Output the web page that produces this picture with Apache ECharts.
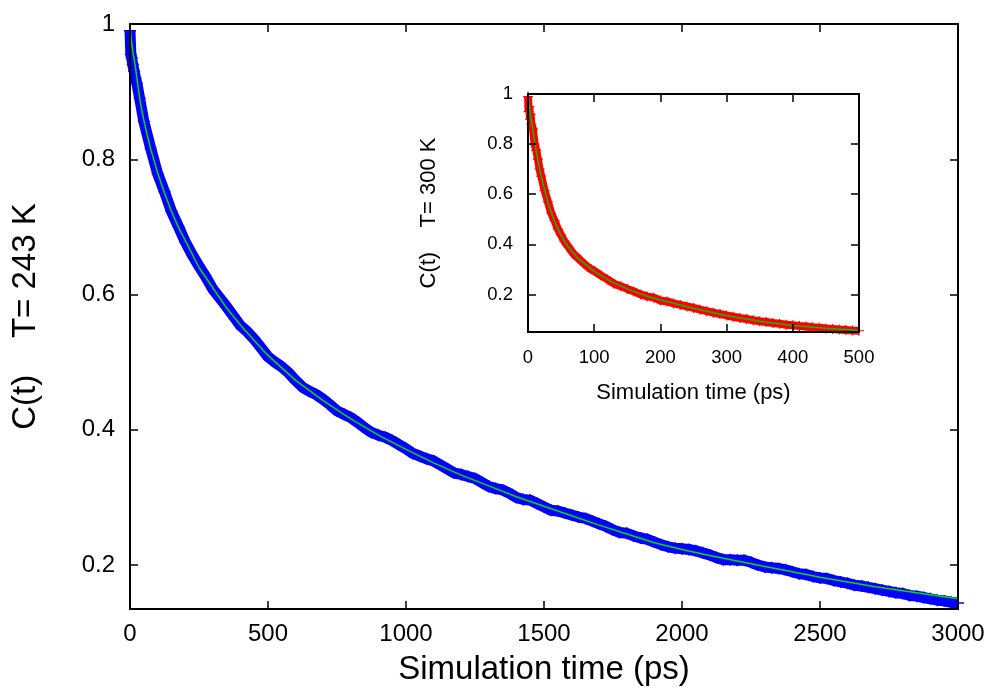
<!DOCTYPE html>
<html>
<head>
<meta charset="utf-8">
<script src="https://cdn.jsdelivr.net/npm/echarts@6/dist/echarts.min.js"></script>
<style>html,body{margin:0;padding:0;background:#fff;}#c{width:991px;height:691px;}</style>
</head>
<body>
<div id="c"></div>
<script>
// ---- Main plot (T = 243 K) ----
var mainYTicks = [0.2, 0.4, 0.6, 0.8, 1];
var mainData = [
 [0,0.99],[3,0.955],[6,0.95],[10,0.94],[15,0.93],[20,0.92],[25,0.912],[35,0.89],
 [50,0.856],[75,0.816],[100,0.779],[125,0.752],[150,0.723],[175,0.701],[200,0.678],[225,0.659],[250,0.642],[275,0.626],
 [300,0.608],[325,0.595],[350,0.582],[375,0.568],[400,0.554],[425,0.545],[450,0.534],[475,0.521],[500,0.508],[525,0.500],
 [550,0.493],[575,0.484],[600,0.473],[625,0.463],[650,0.457],[675,0.452],[700,0.445],[725,0.437],[750,0.428],[775,0.423],
 [800,0.418],[825,0.411],[850,0.403],[875,0.396],[900,0.392],[925,0.389],[950,0.384],[975,0.378],[1000,0.372],[1025,0.365],
 [1050,0.361],[1075,0.357],[1100,0.354],[1125,0.348],[1150,0.342],[1175,0.336],[1200,0.334],[1225,0.331],[1250,0.328],[1275,0.322],
 [1300,0.316],[1325,0.313],[1350,0.311],[1375,0.306],[1400,0.300],[1425,0.297],[1450,0.296],[1475,0.291],[1500,0.286],[1525,0.281],
 [1550,0.280],[1575,0.277],[1600,0.274],[1625,0.271],[1650,0.269],[1675,0.265],[1700,0.261],[1725,0.257],[1750,0.252],[1775,0.248],
 [1800,0.247],[1825,0.243],[1850,0.240],[1875,0.238],[1900,0.234],[1925,0.230],[1950,0.227],[1975,0.225],[2000,0.224],[2025,0.223],
 [2050,0.221],[2075,0.218],[2100,0.215],[2125,0.211],[2150,0.208],[2175,0.208],[2200,0.207],[2225,0.207],[2250,0.204],[2275,0.200],
 [2300,0.197],[2325,0.196],[2350,0.195],[2375,0.193],[2400,0.190],[2425,0.187],[2450,0.186],[2475,0.183],[2500,0.181],[2525,0.180],
 [2550,0.177],[2575,0.175],[2600,0.173],[2625,0.170],[2650,0.169],[2675,0.167],[2700,0.165],[2725,0.163],[2750,0.161],[2775,0.159],
 [2800,0.158],[2825,0.155],[2850,0.154],[2875,0.152],[2900,0.150],[2925,0.148],[2950,0.147],[2975,0.145],[3000,0.144]
];
var mainFit = [
 [0,1.000],[5,0.975],[10,0.960],[20,0.935],[30,0.905],[40,0.878],[50,0.858],[60,0.840],[75,0.815],[100,0.780],
 [125,0.750],[150,0.723],[175,0.700],[200,0.680],[250,0.640],[300,0.610],[350,0.580],[400,0.555],[450,0.532],[500,0.510],
 [600,0.473],[700,0.443],[800,0.416],[900,0.392],[1000,0.371],[1100,0.351],[1200,0.333],[1300,0.317],[1400,0.301],[1500,0.287],
 [1600,0.273],[1700,0.259],[1800,0.246],[1900,0.233],[2000,0.223],[2100,0.214],[2200,0.206],[2300,0.198],[2400,0.190],[2500,0.182],
 [2600,0.175],[2700,0.168],[2800,0.162],[2900,0.156],[3000,0.150]
];
// ---- Inset (T = 300 K) ----
var insetYTicks = [0.2, 0.4, 0.6, 0.8, 1];
var insetData = [
 [0,0.99],[1,0.93],[2,0.95],[3,0.90],[4,0.92],[5,0.88],[7.5,0.86],[10,0.80],[12.5,0.775],[15,0.74],
 [17.5,0.70],[20,0.672],[25,0.615],[30,0.57],[35,0.525],[40,0.495],[45,0.462],[50,0.437],[55,0.412],[60,0.394],
 [65,0.375],[70,0.358],[75,0.347],[80,0.334],[85,0.322],[90,0.310],[95,0.301],[100,0.294],[110,0.276],[120,0.260],
 [130,0.243],[140,0.233],[150,0.222],[160,0.212],[170,0.200],[180,0.192],[190,0.187],[200,0.176],[210,0.172],[220,0.164],
 [230,0.158],[240,0.152],[250,0.146],[260,0.139],[270,0.133],[280,0.127],[290,0.122],[300,0.116],[310,0.111],[320,0.106],
 [330,0.102],[340,0.097],[350,0.093],[360,0.090],[370,0.086],[380,0.083],[390,0.079],[400,0.077],[410,0.074],[420,0.072],
 [430,0.069],[440,0.067],[450,0.064],[460,0.062],[470,0.060],[480,0.058],[490,0.056],[500,0.055]
];
var insetFit = [
 [0,1.0],[2,0.95],[5,0.90],[10,0.81],[15,0.735],[20,0.67],[30,0.568],[40,0.492],[50,0.435],[60,0.392],
 [75,0.345],[100,0.292],[125,0.252],[150,0.222],[175,0.197],[200,0.178],[250,0.145],[300,0.115],[350,0.093],[400,0.076],
 [450,0.065],[500,0.056]
];

var FONT = 'Liberation Sans';
var PLUS = 'path://M0,4.4H10V5.6H0Z M4.4,0H5.6V10H4.4Z';
function fmt(v) { return String(v); }
function xAx(grid, pos, min, max, interval, fs, margin, name, nfs, gap, show) {
  return {
    type: 'value', gridIndex: grid, position: pos, min: min, max: max, interval: interval, z: 10,
    axisLine: {show: true, onZero: false, lineStyle: {color: '#000', width: 2}},
    axisTick: {show: true, inside: true, length: 8, lineStyle: {color: '#000', width: 1.5}},
    axisLabel: {show: show, fontSize: fs, color: '#000', fontFamily: FONT, margin: margin, formatter: fmt},
    splitLine: {show: false},
    name: show ? name : '', nameLocation: 'middle', nameGap: gap,
    nameTextStyle: {fontSize: nfs, color: '#000', fontFamily: FONT}
  };
}
function yAx(grid, pos, min, max, ticks, fs, margin, name, nfs, gap, show) {
  return {
    type: 'value', gridIndex: grid, position: pos, min: min, max: max, z: 10,
    axisLine: {show: true, onZero: false, lineStyle: {color: '#000', width: 2}},
    axisTick: {show: true, inside: true, length: 8, customValues: ticks, lineStyle: {color: '#000', width: 1.5}},
    axisLabel: {show: show, fontSize: fs, color: '#000', fontFamily: FONT, margin: margin, customValues: ticks, formatter: fmt},
    splitLine: {show: false},
    name: show ? name : '', nameLocation: 'middle', nameGap: gap, nameRotate: 90,
    nameTextStyle: {fontSize: nfs, color: '#000', fontFamily: FONT}
  };
}

var chart = echarts.init(document.getElementById('c'), null, {renderer: 'canvas'});
chart.setOption({
  animation: false,
  backgroundColor: '#fff',
  grid: [
    {left: 130, top: 24, width: 828, height: 586},
    {left: 528, top: 94, width: 331, height: 238}
  ],
  xAxis: [
    xAx(0, 'bottom', 0, 3000, 500, 24, 13, 'Simulation time (ps)', 33, 44, true),
    xAx(0, 'top', 0, 3000, 500, 24, 13, '', 33, 44, false),
    xAx(1, 'bottom', 0, 500, 100, 18.5, 16, 'Simulation time (ps)', 22, 50, true),
    xAx(1, 'top', 0, 500, 100, 18.5, 16, '', 22, 50, false)
  ],
  yAxis: [
    yAx(0, 'left', 0.135, 1, mainYTicks, 24, 15, 'C(t)    T= 243 K', 33, 88, true),
    yAx(0, 'right', 0.135, 1, mainYTicks, 24, 15, '', 33, 88, false),
    yAx(1, 'left', 0.05, 1, insetYTicks, 18.5, 15, 'C(t)    T= 300 K', 22, 88, true),
    yAx(1, 'right', 0.05, 1, insetYTicks, 18.5, 15, '', 22, 88, false)
  ],
  series: [
    {type: 'line', xAxisIndex: 0, yAxisIndex: 0, data: mainData, clip: false,
     showSymbol: true, symbol: PLUS, symbolSize: 12, itemStyle: {color: '#0000ff'},
     lineStyle: {color: '#0000ff', width: 11}, z: 2},
    {type: 'line', xAxisIndex: 0, yAxisIndex: 0, data: mainFit, showSymbol: false, clip: false,
     lineStyle: {color: '#00e000', width: 1.5}, z: 3},
    {type: 'line', xAxisIndex: 2, yAxisIndex: 2, data: insetData, clip: false,
     showSymbol: true, symbol: PLUS, symbolSize: 10, itemStyle: {color: '#ff0000'},
     lineStyle: {color: '#ff0000', width: 8}, z: 2},
    {type: 'line', xAxisIndex: 2, yAxisIndex: 2, data: insetFit, showSymbol: false, clip: false,
     lineStyle: {color: '#00c000', width: 1.5}, z: 3}
  ]
});
</script>
</body>
</html>
